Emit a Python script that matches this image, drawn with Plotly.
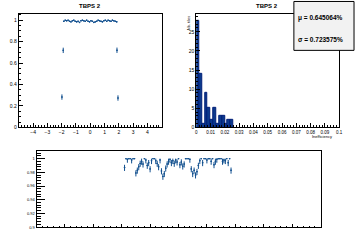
import plotly.graph_objects as go

W, H = 360, 240
BLUE = '#12508f'

# ---------------- data ----------------
# top-left: efficiency vs position
tl_x = [-1.85, -1.75, -1.65, -1.55, -1.45, -1.35, -1.25, -1.15, -1.05, -0.95,
        -0.85, -0.75, -0.65, -0.55, -0.45, -0.35, -0.25, -0.15, -0.05, 0.05,
        0.15, 0.25, 0.35, 0.45, 0.55, 0.65, 0.75, 0.85, 0.95, 1.05,
        1.15, 1.25, 1.35, 1.45, 1.55, 1.65, 1.75, 1.85]
tl_y = [0.99, 1.0, 0.995, 1.0, 0.99, 0.985, 0.995, 1.0, 0.99, 0.985,
        0.99, 0.98, 0.995, 1.0, 0.995, 0.99, 1.0, 0.99, 0.985, 0.995,
        0.99, 0.98, 0.985, 0.99, 1.0, 0.995, 0.99, 0.985, 0.995, 1.0,
        0.99, 1.0, 0.995, 0.99, 1.0, 0.995, 0.99, 0.985]
out_x = [-1.89, 1.87, -1.98, 1.94]
out_y = [0.719, 0.72, 0.283, 0.274]
out_err = [0.025, 0.025, 0.025, 0.025]
tl_xticks = [-4, -3, -2, -1, 0, 1, 2, 3, 4]

# top-right: inefficiency histogram
hist_lo = [0.000, 0.002, 0.004, 0.006, 0.008, 0.010, 0.012, 0.014, 0.016,
           0.018, 0.020, 0.022, 0.024]
hist_counts = [28, 14, 1, 9, 5, 2, 5, 1, 3, 3, 1, 2, 2]
bin_w = 0.002
mean_txt = "\u03bc = 0.645064%"
sigma_txt = "\u03c3 = 0.723575%"
tr_xticks = [0, 0.01, 0.02, 0.03, 0.04, 0.05, 0.06, 0.07, 0.08, 0.09, 0.1]
tr_xlabels = ['0', '0.01', '0.02', '0.03', '0.04', '0.05', '0.06', '0.07', '0.08', '0.09', '0.1']

# bottom: efficiency per tile
bt_x = [3.10, 3.15, 3.20, 3.25, 3.30, 3.35, 3.40, 3.45, 3.50, 3.55,
        3.60, 3.65, 3.70, 3.75, 3.80, 3.85, 3.90, 3.95, 4.00, 4.05,
        4.10, 4.15, 4.20, 4.25, 4.30, 4.35, 4.40, 4.45, 4.50, 4.55,
        4.60, 4.65, 4.70, 4.75, 4.80, 4.85, 4.90, 4.95, 5.00, 5.05,
        5.10, 5.15, 5.20, 5.25, 5.30, 5.35, 5.40, 5.45, 5.50, 5.55,
        5.60, 5.65, 5.70, 5.75, 5.80, 5.85, 5.90, 5.95, 6.00, 6.05,
        6.10, 6.15, 6.20, 6.25, 6.30, 6.35, 6.40, 6.45, 6.50, 6.55,
        6.60, 6.65, 6.70, 6.75, 6.80, 6.85]
bt_y = [0.987, 1.0, 0.999, 1.0, 1.0, 0.998, 1.0, 1.0, 0.979, 0.983,
        0.988, 0.993, 0.996, 0.992, 1.0, 0.998, 0.99, 0.994, 0.985, 0.997,
        1.0, 1.0, 0.997, 0.993, 0.988, 0.998, 0.982, 0.974, 0.978, 0.986,
        0.992, 0.996, 0.999, 0.994, 0.997, 0.993, 0.998, 0.995, 1.0, 0.991,
        0.995, 0.989, 0.992, 1.0, 1.0, 1.0, 0.999, 0.985, 0.978, 0.983,
        0.976, 0.981, 0.99, 0.997, 1.0, 0.994, 1.0, 1.0, 0.998, 1.0,
        1.0, 0.996, 1.0, 0.991, 0.996, 0.999, 1.0, 1.0, 1.0, 0.996,
        0.998, 0.997, 1.0, 0.994, 1.0, 0.983]
bt_err = [0.005 if v < 1 else 0.0 for v in bt_y]
bt_err_up = [min(0.004, 1 - v) for v in bt_y]


def px(xp):
    return xp / W


def py(yp):
    return 1 - yp / H


fig = go.Figure()

# top-left graph
fig.add_trace(go.Scatter(
    x=tl_x, y=tl_y, mode='markers', xaxis='x', yaxis='y',
    marker=dict(color=BLUE, size=1.5),
    error_x=dict(type='constant', value=0.05, width=0, thickness=1, color=BLUE),
    error_y=dict(type='constant', value=0.006, width=0, thickness=1, color=BLUE),
    showlegend=False))
fig.add_trace(go.Scatter(
    x=out_x, y=out_y, mode='markers', xaxis='x', yaxis='y',
    marker=dict(color=BLUE, size=1.5),
    error_x=dict(type='constant', value=0.05, width=0, thickness=1, color=BLUE),
    error_y=dict(type='data', array=out_err, width=0, thickness=1, color=BLUE),
    showlegend=False))

# top-right histogram
fig.add_trace(go.Bar(
    x=[lo + bin_w / 2 for lo in hist_lo], y=hist_counts, width=bin_w,
    xaxis='x2', yaxis='y2',
    marker=dict(color='#0b3a8c', line=dict(color='#001e78', width=1)),
    showlegend=False))

# bottom graph
fig.add_trace(go.Scatter(
    x=bt_x, y=bt_y, mode='markers', xaxis='x3', yaxis='y3',
    marker=dict(color=BLUE, size=1.5),
    error_x=dict(type='constant', value=0.025, width=0, thickness=1, color=BLUE),
    error_y=dict(type='data', array=bt_err_up, arrayminus=bt_err,
                 width=0, thickness=1, color=BLUE),
    showlegend=False))

FONT = dict(family='Liberation Sans, Arial, sans-serif', size=5, color='black')
ax_common = dict(showline=True, linecolor='black', linewidth=1, mirror=True,
                 ticks='inside', tickcolor='black', tickwidth=1,
                 showgrid=False, zeroline=False, tickfont=FONT, fixedrange=True)

fig.update_layout(
    width=W, height=H, margin=dict(l=0, r=0, t=0, b=0),
    paper_bgcolor='white', plot_bgcolor='white', bargap=0,
    xaxis=dict(ax_common, domain=[px(18), px(163)], anchor='y',
               range=[-5, 5], tickvals=tl_xticks, ticklen=4,
               minor=dict(ticks='inside', dtick=0.2, ticklen=2, tickcolor='black')),
    yaxis=dict(ax_common, domain=[py(129), py(14)], anchor='x',
               range=[0, 1.06], tickvals=[0, 0.2, 0.4, 0.6, 0.8, 1],
               ticktext=['0', '0.2', '0.4', '0.6', '0.8', '1'], ticklen=4,
               minor=dict(ticks='inside', dtick=0.05, ticklen=2, tickcolor='black')),
    xaxis2=dict(ax_common, domain=[px(198), px(343)], anchor='y2',
                range=[0, 0.1], tickvals=tr_xticks, ticktext=tr_xlabels,
                tickfont=dict(FONT, size=4.5), ticklen=4,
                minor=dict(ticks='inside', dtick=0.002, ticklen=2, tickcolor='black')),
    yaxis2=dict(ax_common, domain=[py(129), py(14)], anchor='x2',
                range=[0, 29.7], dtick=5, ticklen=4,
                minor=dict(ticks='inside', dtick=1, ticklen=2, tickcolor='black')),
    xaxis3=dict(ax_common, domain=[px(36), px(324)], anchor='y3',
                range=[0, 10], dtick=1, ticklen=3, showticklabels=False,
                minor=dict(ticks='inside', dtick=0.2, ticklen=1.5, tickcolor='black')),
    yaxis3=dict(ax_common, domain=[py(230), py(153)], anchor='x3',
                range=[0.9, 1.011], tickvals=[0.9, 0.92, 0.94, 0.96, 0.98, 1],
                ticktext=['0.9', '0.92', '0.94', '0.96', '0.98', '1'],
                tickfont=dict(FONT, size=4), ticklen=8,
                minor=dict(ticks='inside', dtick=0.004, ticklen=4, tickcolor='black')),
)

TFONT = dict(family='Liberation Sans, Arial, sans-serif', size=6, color='black')
fig.add_annotation(x=px(90), y=py(6), xref='paper', yref='paper', text='<b>TBPS 2</b>',
                   showarrow=False, font=TFONT, xanchor='center', yanchor='middle')
fig.add_annotation(x=px(270), y=py(6), xref='paper', yref='paper', text='<b>TBPS 2</b>',
                   showarrow=False, font=TFONT, xanchor='center', yanchor='middle')
# axis titles of histogram
fig.add_annotation(x=px(190), y=py(14), xref='paper', yref='paper', text='Nb. tiles',
                   showarrow=False, font=dict(FONT, size=4), textangle=-90,
                   xanchor='center', yanchor='top')
fig.add_annotation(x=px(338), y=py(138.5), xref='paper', yref='paper', text='Inefficiency',
                   showarrow=False, font=dict(FONT, size=4), xanchor='right', yanchor='middle')

# stats box
fig.add_shape(type='rect', xref='paper', yref='paper',
              x0=px(297), x1=px(358), y0=py(51), y1=py(1.5),
              fillcolor='#f2f2f2', line=dict(color='black', width=1), layer='above')
SFONT = dict(family='Liberation Sans, Arial, sans-serif', size=6.5, color='black')
fig.add_annotation(x=px(299), y=py(18), xref='paper', yref='paper', text='<b>' + mean_txt + '</b>',
                   showarrow=False, font=SFONT, xanchor='left', yanchor='middle')
fig.add_annotation(x=px(299), y=py(39.5), xref='paper', yref='paper', text='<b>' + sigma_txt + '</b>',
                   showarrow=False, font=SFONT, xanchor='left', yanchor='middle')

fig.write_html('out.html')
